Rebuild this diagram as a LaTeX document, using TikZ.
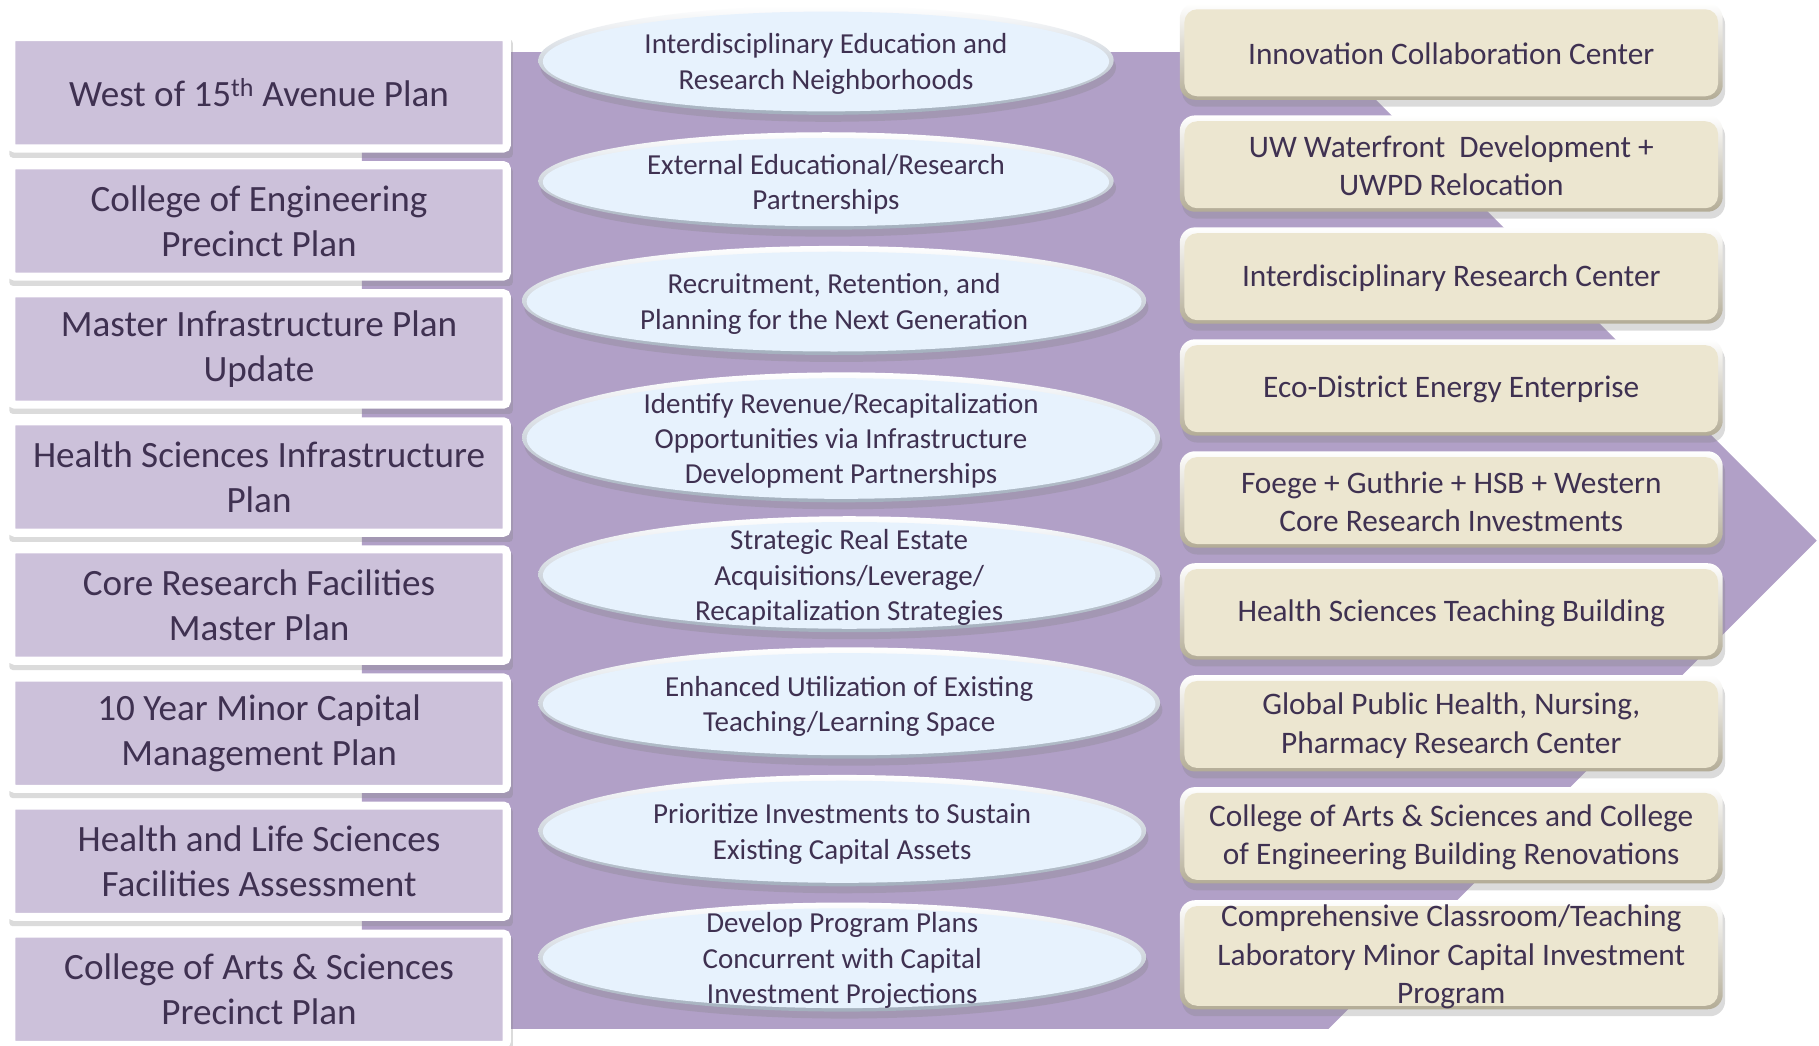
\documentclass[tikz,border=0pt]{standalone}
\usepackage{fontspec}
\setmainfont{Carlito}
\usetikzlibrary{shapes.geometric}
\definecolor{arrowc}{HTML}{B1A0C7}
\definecolor{leftc}{HTML}{CCC1DA}
\definecolor{txt}{HTML}{3F3151}
\definecolor{ellc}{HTML}{E7F2FD}
\definecolor{ellrim}{HTML}{A3AFBD}
\definecolor{creamc}{HTML}{ECE6D0}
\definecolor{creamrim}{HTML}{B3AC96}
\tikzset{
  plumstyle/.style={rectangle, fill=leftc, draw=white, line width=7pt, rounded corners=3pt,
    minimum width=427pt, minimum height=96pt, inner sep=0pt, align=center, text=txt,
    font=\fontsize{32}{39}\selectfont},
  ellstyle/.style={ellipse, fill=ellc, inner sep=0pt},
  elltext/.style={inner sep=0pt, align=center, text=txt, font=\fontsize{25}{30.5}\selectfont},
  creamstyle/.style={rectangle, rounded corners=11pt, fill=creamc, minimum width=460pt,
    inner sep=0pt},
  creamtext/.style={inner sep=0pt, align=center, text=txt, font=\fontsize{27}{33}\selectfont},
  shadowfill/.style={fill=black!50, opacity=.28}
}
\newcommand\plumbox[3]{%
  \fill[shadowfill, rounded corners=3pt] (8,{#2-46}) rectangle (442,{#2+56});
  \node[plumstyle] (#1) at (223.3,#2) {#3};
}
\newcommand\ellbox[6]{%
  \fill[shadowfill] ({#2+2},{#3+6}) ellipse [x radius=#4, y radius=#5];
  \shade[top color=white, bottom color=ellrim] (#2,#3) ellipse [x radius=#4, y radius=#5];
  \node[ellstyle, minimum width={2*#4-8}, minimum height={2*#5-8}] (#1) at (#2,{#3+1}) {};
  \node[elltext] (#1t) at (#2,{#3+3}) {#6};
}
\newcommand\creambox[5]{%
  \fill[shadowfill, rounded corners=13pt] ({#2-232},{#3-#4/2+5}) rectangle ({#2+236},{#3+#4/2+6});
  \shade[top color=white, bottom color=creamrim, rounded corners=13pt] ({#2-234},{#3-#4/2}) rectangle ({#2+234},{#3+#4/2});
  \node[creamstyle, minimum height={#4-8}] (#1) at (#2,{#3+1}) {};
  \node[creamtext] (#1t) at (#2,{#3+2}) {#5};
}
\begin{document}
\begin{tikzpicture}[x=1pt,y=-1pt]
\useasboundingbox (0,0) rectangle (1568,901);
\fill[white] (0,0) rectangle (1568,901);
% big arrow
\fill[arrowc] (312,45) -- (1145,45) -- (1566,466) -- (1145,887) -- (312,887) -- cycle;
% left column
\plumbox{l1}{80}{West of 15\textsuperscript{th} Avenue Plan}
\plumbox{l2}{190.4}{College of Engineering\\Precinct Plan}
\plumbox{l3}{300.8}{Master Infrastructure Plan\\Update}
\plumbox{l4}{411.2}{Health Sciences Infrastructure\\Plan}
\plumbox{l5}{521.6}{Core Research Facilities\\Master Plan}
\plumbox{l6}{632}{10 Year Minor Capital\\Management Plan}
\plumbox{l7}{742.4}{Health and Life Sciences\\Facilities Assessment}
\plumbox{l8}{852.8}{College of Arts \& Sciences\\Precinct Plan}
% middle column
\ellbox{m1}{712}{52}{248}{47}{Interdisciplinary Education and\\Research Neighborhoods}
\ellbox{m2}{712}{156}{248}{42}{External Educational/Research\\Partnerships}
\ellbox{m3}{719}{259}{269}{47}{Recruitment, Retention, and\\Planning for the Next Generation}
\ellbox{m4}{725}{377}{275}{56}{Identify Revenue/Recapitalization\\Opportunities via Infrastructure\\Development Partnerships}
\ellbox{m5}{732}{495}{268}{50}{Strategic Real Estate\\Acquisitions/Leverage/\\Recapitalization Strategies}
\ellbox{m6}{732}{606}{268}{48}{Enhanced Utilization of Existing\\Teaching/Learning Space}
\ellbox{m7}{726}{716}{262}{48}{Prioritize Investments to Sustain\\Existing Capital Assets}
\ellbox{m8}{726}{825}{262}{47}{Develop Program Plans\\Concurrent with Capital\\Investment Projections}
% right column
\creambox{r1}{1251}{44.5}{83}{Innovation Collaboration Center}
\creambox{r2}{1251}{141}{83}{UW Waterfront\ \ Development +\\UWPD Relocation}
\creambox{r3}{1251}{237.5}{83}{Interdisciplinary Research Center}
\creambox{r4}{1251}{334}{83}{Eco-District Energy Enterprise}
\creambox{r5}{1251}{430.5}{83}{Foege + Guthrie + HSB + Western\\Core Research Investments}
\creambox{r6}{1251}{527}{83}{Health Sciences Teaching Building}
\creambox{r7}{1251}{623.5}{83}{Global Public Health, Nursing,\\Pharmacy Research Center}
\creambox{r8}{1251}{720}{83}{College of Arts \& Sciences and College\\of Engineering Building Renovations}
\creambox{r9}{1251}{823}{94}{Comprehensive Classroom/Teaching\\Laboratory Minor Capital Investment\\Program}
\end{tikzpicture}
\end{document}
